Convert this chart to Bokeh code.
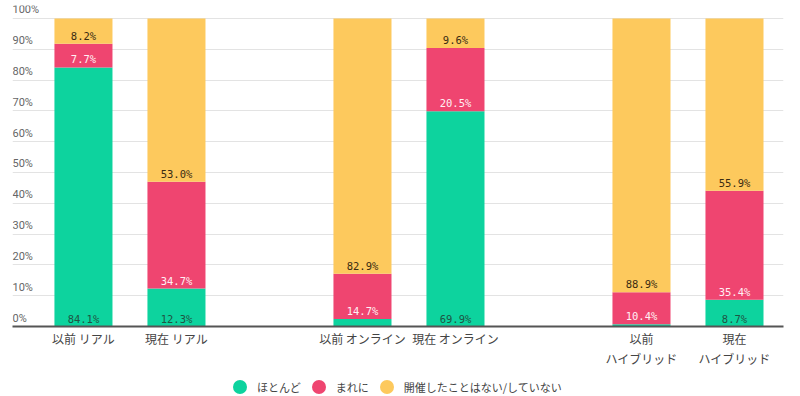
from bokeh.plotting import figure
from bokeh.layouts import column
from bokeh.models import ColumnDataSource, FixedTicker, Legend, LegendItem, Range1d
from bokeh.core.properties import value
from bokeh.embed import file_html
from bokeh.resources import INLINE

categories = ["以前 リアル", "現在 リアル", "以前 オンライン", "現在 オンライン", "以前\nハイブリッド", "現在\nハイブリッド"]
positions = [0, 1, 3, 4, 6, 7]
mostly = [84.1, 12.3, 2.4, 69.9, 0.7, 8.7]
rarely = [7.7, 34.7, 14.7, 20.5, 10.4, 35.4]
never = [8.2, 53.0, 82.9, 9.6, 88.9, 55.9]
series_names = ["ほとんど", "まれに", "開催したことはない/していない"]
colors = ["#0dd39e", "#ef4570", "#fdc95d"]
label_colors = ["#1f5443", "#fff0f4", "#3b2c12"]
y_ticks = [0, 10, 20, 30, 40, 50, 60, 70, 80, 90, 100]
min_label = 5.0

p = figure(width=800, height=369, output_backend="svg", toolbar_location=None,
           x_range=Range1d(-0.763, 7.527), y_range=Range1d(0, 104.22),
           min_border_left=12, min_border_right=17, min_border_top=5, min_border_bottom=30)
p.outline_line_color = None
p.background_fill_color = "white"
p.border_fill_color = "white"

series = [mostly, rarely, never]
bottoms = [0.0] * len(positions)
for vals, col, lcol in zip(series, colors, label_colors):
    tops = [b + v for b, v in zip(bottoms, vals)]
    src = ColumnDataSource(dict(x=positions, bottom=bottoms, top=tops))
    p.vbar(x="x", bottom="bottom", top="top", width=0.624, source=src,
           fill_color=col, line_color=None)
    lx, ly, lt = [], [], []
    for xi, b, v in zip(positions, bottoms, vals):
        if v >= min_label:
            lx.append(xi); ly.append(b); lt.append(f"{v:.1f}%")
    p.text(x=lx, y=ly, text=lt, text_align="center", text_baseline="bottom",
           y_offset=-2, text_font=value("DejaVu Sans Mono"), text_font_size="10.5px",
           text_color=lcol)
    bottoms = tops

# y tick labels drawn inside plot above gridlines
p.text(x=[-0.763] * len(y_ticks), y=y_ticks, text=[f"{t}%" for t in y_ticks],
       x_offset=0, y_offset=-2, text_align="left", text_baseline="bottom",
       text_font=value("Roboto"), text_font_size="11px", text_color="#666666")

p.yaxis.visible = False
p.ygrid.ticker = FixedTicker(ticks=y_ticks)
p.ygrid.grid_line_color = "#e3e3e3"
p.ygrid.grid_line_width = 1
p.xgrid.grid_line_color = None

p.xaxis.ticker = FixedTicker(ticks=positions)
p.xaxis.major_label_overrides = {pos: cat for pos, cat in zip(positions, categories)}
p.xaxis.axis_line_color = "#555555"
p.xaxis.axis_line_width = 2
p.xaxis.major_tick_line_color = None
p.xaxis.minor_tick_line_color = None
p.xaxis.major_tick_out = 0
p.xaxis.major_tick_in = 0
p.xaxis.major_label_text_font = "Noto Sans CJK JP"
p.xaxis.major_label_text_font_size = "12px"
p.xaxis.major_label_text_color = "#444444"
p.xaxis.major_label_standoff = 3

# legend figure
q = figure(width=800, height=27, output_backend="svg", toolbar_location=None,
           x_range=Range1d(0, 1), y_range=Range1d(0, 1),
           min_border_left=0, min_border_right=0, min_border_top=0, min_border_bottom=0)
q.axis.visible = False
q.grid.grid_line_color = None
q.outline_line_color = None
renderers = []
for name, col in zip(series_names, colors):
    r = q.scatter(x=[-10], y=[-10], marker="circle", size=14, fill_color=col, line_color=None)
    renderers.append(r)

legend = Legend(items=[LegendItem(label=n, renderers=[r]) for n, r in zip(series_names, renderers)],
                orientation="horizontal", location=(210, -8),
                border_line_color=None, background_fill_alpha=0,
                label_text_font="Noto Sans CJK JP", label_text_font_size="11px",
                label_text_color="#444444", glyph_width=35, glyph_height=35,
                label_standoff=0, spacing=0, margin=0, padding=1)
q.add_layout(legend, "center")

open("out.html", "w").write(file_html(column(p, q, spacing=0), INLINE))
